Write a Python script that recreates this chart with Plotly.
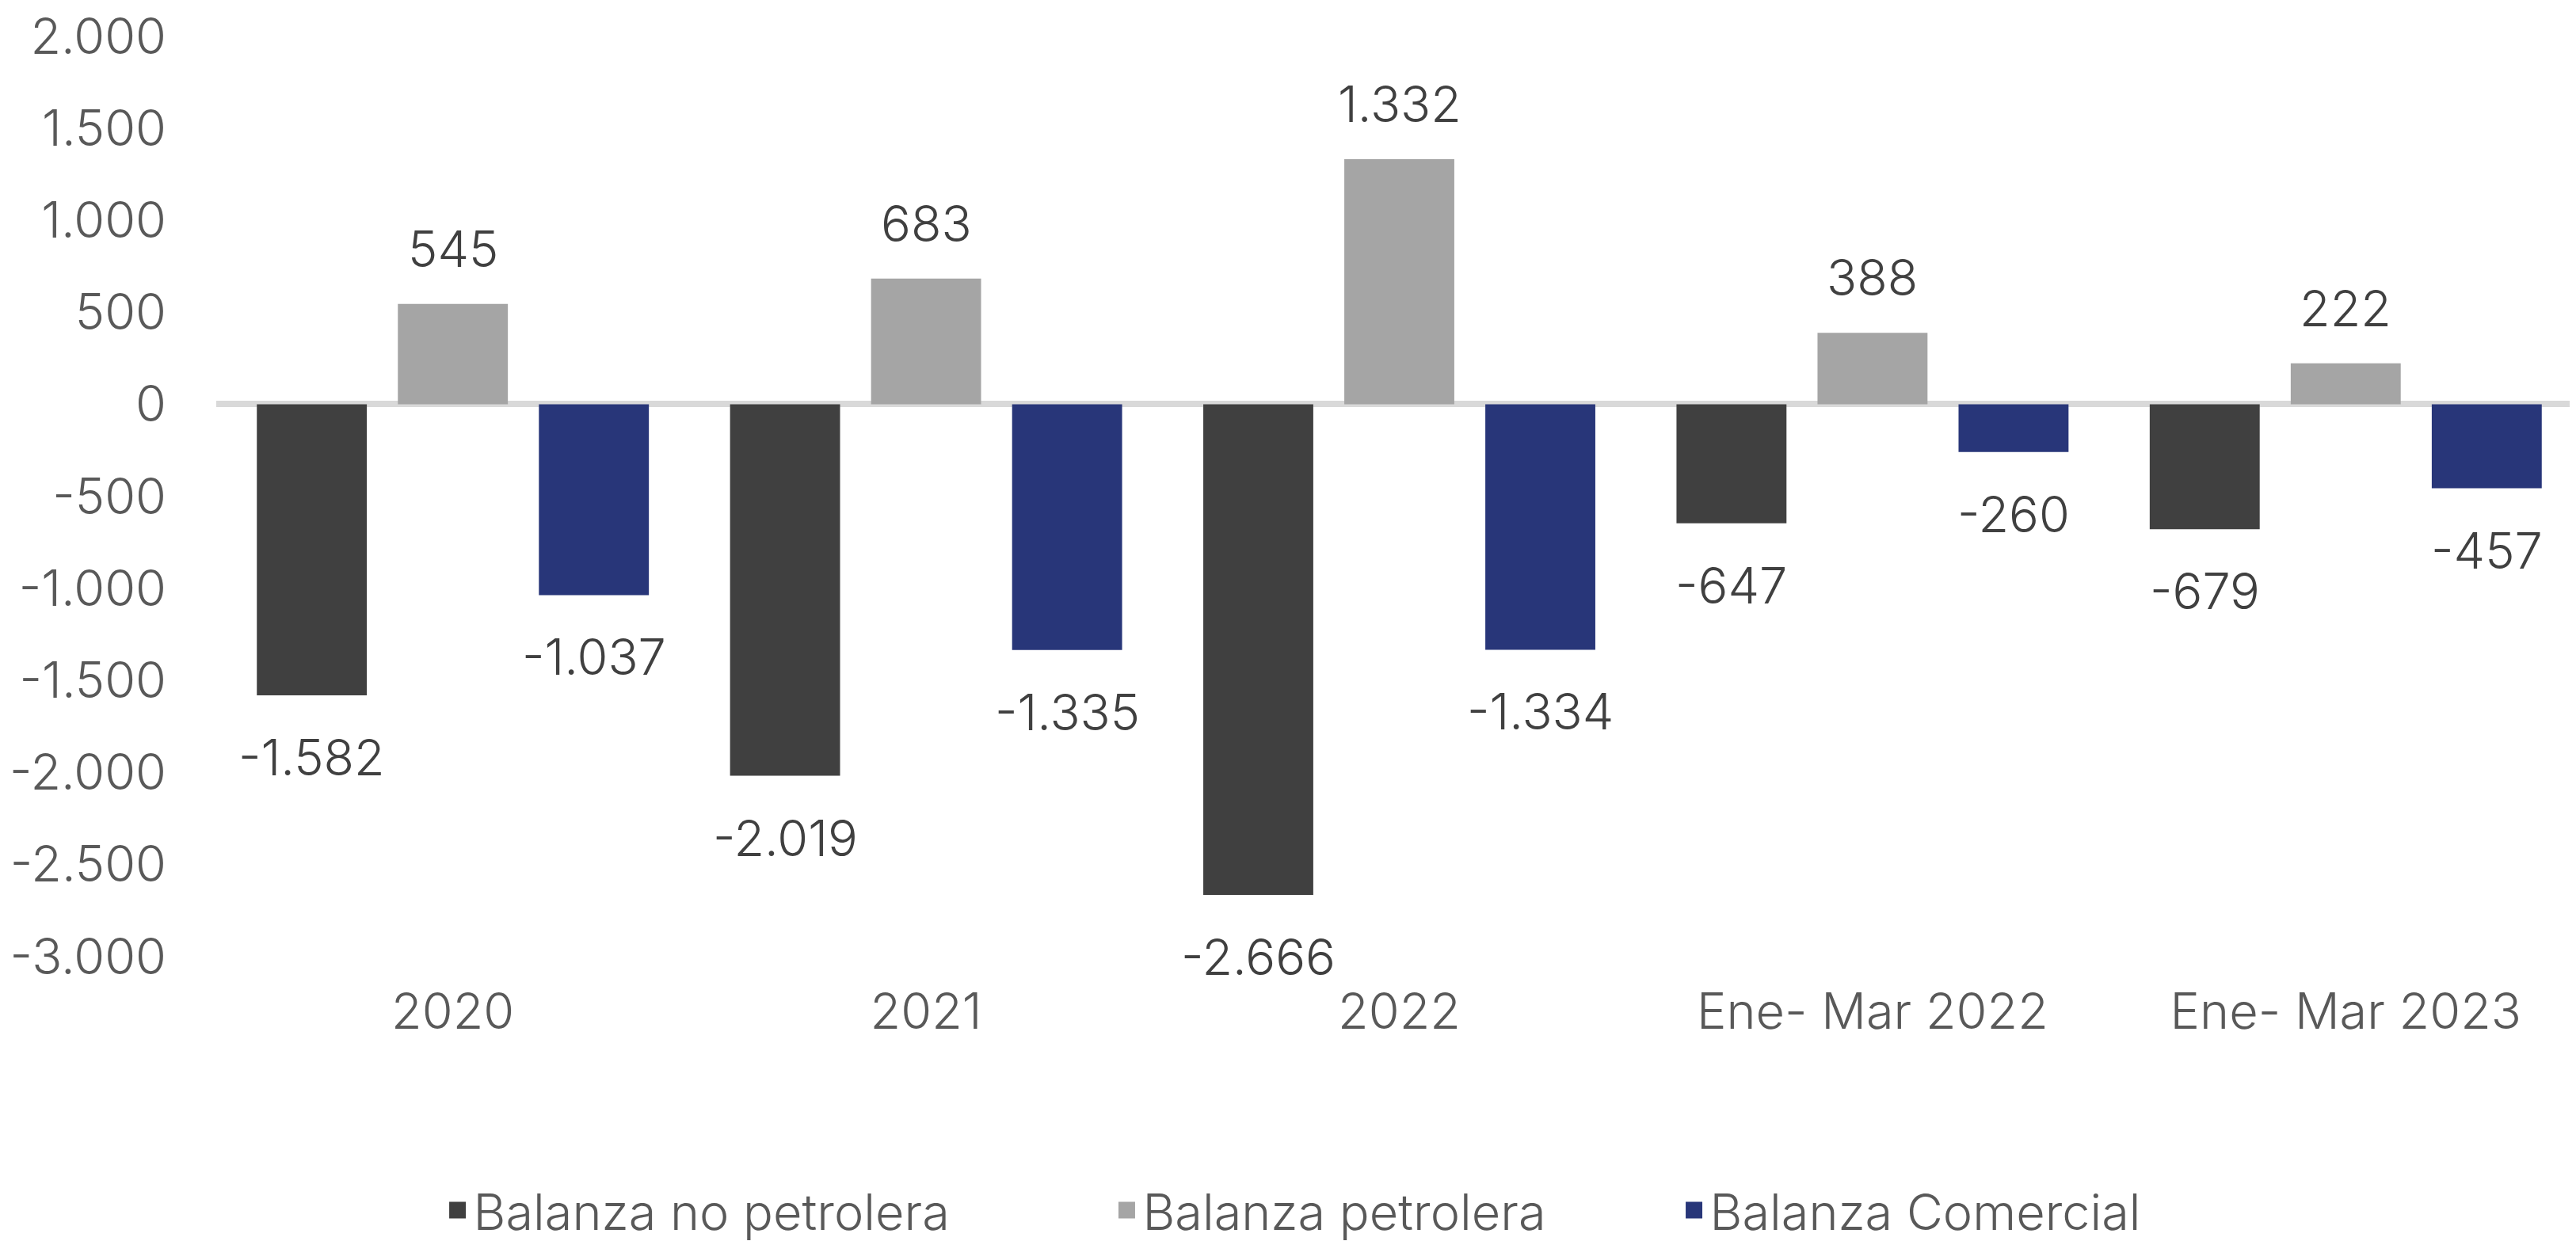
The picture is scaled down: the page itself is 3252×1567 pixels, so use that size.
import plotly.graph_objects as go

categories = ["2020", "2021", "2022", "Ene- Mar 2022", "Ene- Mar 2023"]
series_names = ["Balanza no petrolera", "Balanza petrolera", "Balanza Comercial"]
no_petrolera = [-1582, -2019, -2666, -647, -679]
petrolera = [545, 683, 1332, 388, 222]
comercial = [-1037, -1335, -1334, -260, -457]
y_tickvals = [2000, 1500, 1000, 500, 0, -500, -1000, -1500, -2000, -2500, -3000]
y_ticktext = ["2.000", "1.500", "1.000", "500", "0", "-500", "-1.000", "-1.500", "-2.000", "-2.500", "-3.000"]

colors = ["#404040", "#a5a5a5", "#283679"]
all_series = [no_petrolera, petrolera, comercial]

def fmt(v):
    s = f"{abs(v):,}".replace(",", ".")
    return ("-" if v < 0 else "") + s

W, H = 3252, 1567
ml, mr, mt, mb = 265, 0, 37, 367
bargap = 0.106
bargroupgap = 0.22
font_family = "Inter"
fw = 300
fs = 63
legend_x = [0.1690, 0.4288, 0.6490]
legend_ids = ["legend", "legend2", "legend3"]

fig = go.Figure()
for name, vals, col in zip(series_names, all_series, colors):
    fig.add_trace(go.Bar(x=categories, y=vals, name=name, marker=dict(color=col, line=dict(width=0)),
                         showlegend=False, hoverinfo="skip"))
# legend proxies with larger square markers, one legend each for exact spacing
for name, col, lid in zip(series_names, colors, legend_ids):
    fig.add_trace(go.Scatter(x=[categories[0]], y=[None], mode="markers", name=name, legend=lid,
                             marker=dict(symbol="square", size=16, color=col,
                                         line=dict(width=5, color=col))))

plot_w = W - ml - mr
slot_px = plot_w / len(categories) * (1 - bargap) / 3
annotations = []
for i, vals in enumerate(all_series):
    for j, v in enumerate(vals):
        pos = v >= 0
        annotations.append(dict(x=j, y=v, xref="x", yref="y", text=fmt(v), showarrow=False,
                                xshift=(i - 1) * slot_px,
                                yanchor="bottom" if pos else "top",
                                yshift=30 if pos else -38,
                                font=dict(family=font_family, size=fs, color="#404040", weight=fw)))

legend_common = dict(orientation="h", xref="container", yref="container", y=0.03,
                     xanchor="left", yanchor="middle", bgcolor="rgba(0,0,0,0)",
                     font=dict(size=fs, color="#595959", weight=fw), itemsizing="trace")

fig.update_layout(
    width=W, height=H,
    margin=dict(l=ml, r=mr, t=mt, b=mb),
    paper_bgcolor="white", plot_bgcolor="white",
    barmode="group", bargap=bargap, bargroupgap=bargroupgap,
    font=dict(family=font_family, size=fs, color="#595959", weight=fw),
    annotations=annotations,
    legend=dict(x=legend_x[0], **legend_common),
    legend2=dict(x=legend_x[1], **legend_common),
    legend3=dict(x=legend_x[2], **legend_common),
    xaxis=dict(type="category", categoryorder="array", categoryarray=categories,
               range=[-0.5, len(categories) - 0.5],
               showgrid=False, showline=False, ticks="", ticklabelstandoff=27,
               tickfont=dict(size=fs, color="#595959", weight=fw)),
    yaxis=dict(range=[-3002, 2003], showgrid=False, showline=False, zeroline=True,
               zerolinecolor="#d9d9d9", zerolinewidth=8,
               tickvals=y_tickvals, ticktext=y_ticktext, ticklabelstandoff=62,
               ticklabeloverflow="allow",
               tickfont=dict(size=fs, color="#595959", weight=fw)),
)

fig.write_html("out.html")
